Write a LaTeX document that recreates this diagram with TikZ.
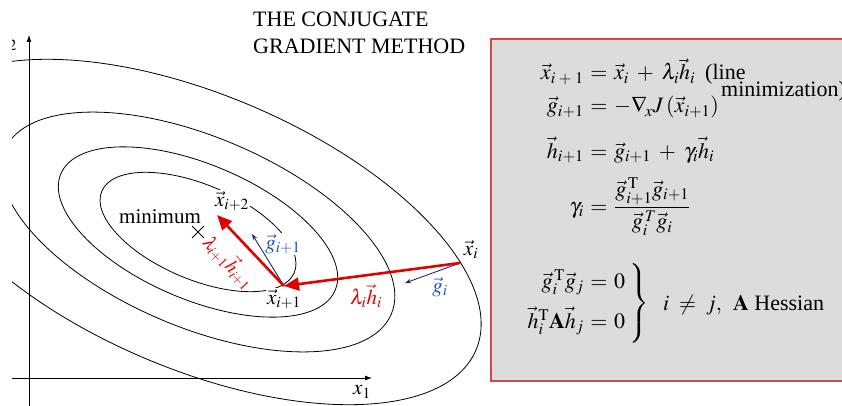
\documentclass[tikz,border=0pt]{standalone}
\usepackage{amsmath}
\usepackage{mathptmx}
\usepackage{fontspec}
\setmainfont{Liberation Serif}
\usetikzlibrary{arrows.meta,shapes.misc}
\definecolor{stepred}{RGB}{225,0,0}
\definecolor{gradblue}{RGB}{25,85,190}
\definecolor{gradnavy}{RGB}{30,40,130}
\definecolor{boxgray}{RGB}{220,220,220}
\definecolor{boxred}{RGB}{215,70,70}
\tikzstyle{contour}=[black, line width=0.8pt]
\tikzstyle{axis}=[black, line width=0.8pt, -{Latex[length=7pt,width=5pt]}]
\tikzstyle{stepvec}=[stepred, line width=2.6pt, -{Triangle[length=15pt,width=13pt]}]
\tikzstyle{gradvec}=[gradnavy, line width=0.9pt, -{Stealth[length=6pt,width=4.5pt]}]
\tikzstyle{lbl}=[font=\fontsize{21}{24}\selectfont, inner sep=1pt]
\tikzstyle{eqn}=[font=\fontsize{22}{26}\selectfont, inner sep=0pt, anchor=base]

\begin{document}
\begin{tikzpicture}[x=1pt,y=-1pt]
\useasboundingbox (0,0) rectangle (842,406);
% title
\node[anchor=north west, align=left, inner sep=0pt, font=\fontsize{22}{27}\selectfont] (title) at (253,12) {THE CONJUGATE\\GRADIENT METHOD};

% contours and axes, cut at the left edge
\begin{scope}
\clip (12,0) rectangle (491,406);
\foreach \ra/\rb in {104.5/47.3, 149/67.5, 210/95, 302/137}
  \draw[contour, rotate around={-23:(198,232)}] (198,232) ellipse [x radius=\ra, y radius=\rb];
\coordinate (xstart) at (12,378);
\coordinate (xend) at (372,378);
\coordinate (ystart) at (29,406);
\coordinate (yend) at (29,35);
\draw[axis] (xstart) -- (xend);
\draw[axis] (ystart) -- (yend);
\node[lbl, anchor=east] (x2) at (18,44) {$x_2$};
\end{scope}
\node[lbl] (x1) at (362,392) {$x_1$};

% iterates
\coordinate (xi) at (460,263);
\coordinate (xi1) at (284,286);
\coordinate (xi2) at (217,215);
\coordinate (gi) at (405,283);
\coordinate (gi1) at (252,234);
\node[draw, cross out, minimum size=11pt, inner sep=0pt, line width=0.8pt] (xmin) at (198,232) {};
\node[lbl] (min) at (160,217) {minimum};

\node[lbl, fill=white] (lxi2) at (232,201) {$\vec{x}_{i+2}$};
\node[lbl, fill=white, text=gradblue] (lgi1) at (283,244) {$\vec{g}_{i+1}$};
\node[lbl, fill=white] (lxi1) at (284,299) {$\vec{x}_{i+1}$};
\node[lbl] (lxi) at (471,250) {$\vec{x}_i$};
\node[lbl, text=gradblue] (lgi) at (440,287) {$\vec{g}_i$};
\node[lbl, text=stepred] (lhi) at (366,296) {$\lambda_i\vec{h}_i$};
\node[lbl, text=stepred, rotate=-47, font=\fontsize{19}{22}\selectfont] (lhi1) at (229,262) {$\lambda_{i+1}\vec{h}_{i+1}$};

\draw[gradvec] (xi) -- (gi);
\draw[gradvec] (xi1) -- (gi1);
\draw[stepvec] (xi) -- (xi1);
\draw[stepvec] (xi1) -- (xi2);

% summary box
\draw[boxred, fill=boxgray, line width=1.2pt] (491,39) rectangle (850,381);
\node[eqn, anchor=base east] (l1) at (584,80) {$\vec{x}_{i\;+\;1}$};
\node[eqn] (e1) at (599,80) {$=$};
\node[eqn, anchor=base west] (r1) at (614,80) {$\vec{x}_i \;+\; \lambda_i\vec{h}_i$};
\node[eqn, anchor=base west] (r1a) at (705,80) {(line};
\node[eqn, anchor=base east] (r1b) at (846,97) {minimization)};

\node[eqn, anchor=base east] (l2) at (584,113) {$\vec{g}_{i+1}$};
\node[eqn] (e2) at (599,113) {$=$};
\node[eqn, anchor=base west] (r2) at (614,113) {$-\nabla_{\!x}J\,(\vec{x}_{i+1})$};

\node[eqn, anchor=base east] (l3) at (584,158) {$\vec{h}_{i+1}$};
\node[eqn] (e3) at (599,158) {$=$};
\node[eqn, anchor=base west] (r3) at (614,158) {$\vec{g}_{i+1} \;+\; \gamma_i\vec{h}_i$};

\node[eqn, anchor=base east] (l4) at (584,213) {$\gamma_i$};
\node[eqn] (e4) at (599,213) {$=$};
\node[eqn, anchor=base west] (r4) at (614,213) {$\dfrac{\vec{g}^{\,\mathrm{T}}_{i+1}\vec{g}_{i+1}}{\vec{g}^{\,T}_i\vec{g}_i}$};

\node[eqn, anchor=base east] (l5) at (584,288) {$\vec{g}^{\,\mathrm{T}}_i\vec{g}_j$};
\node[eqn] (e5) at (599,288) {$=$};
\node[eqn, anchor=base west] (r5) at (614,288) {$0$};
\node[eqn, anchor=base east] (l6) at (584,328) {$\vec{h}^{\mathrm{T}}_i\mathbf{A}\vec{h}_j$};
\node[eqn] (e6) at (599,328) {$=$};
\node[eqn, anchor=base west] (r6) at (614,328) {$0$};
\node[eqn, anchor=west] (brace) at (628,304) {$\left.\vrule height 35pt depth 35pt width 0pt\right\}$};
\node[eqn, anchor=base west] (cond) at (663,310) {$i \;\neq\; j,$\enspace $\mathbf{A}$ Hessian};
\end{tikzpicture}
\end{document}
